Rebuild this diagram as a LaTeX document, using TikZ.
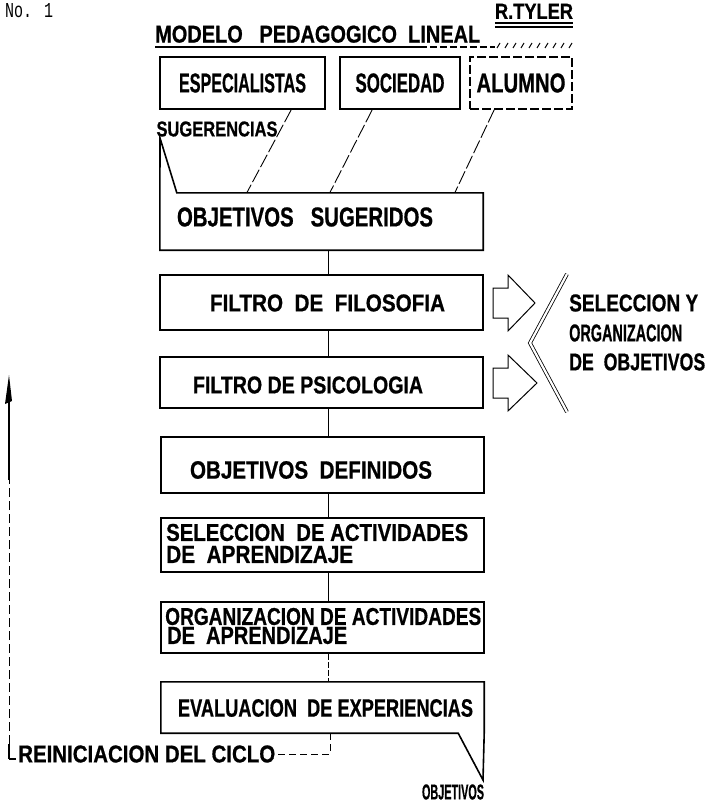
\documentclass[tikz,border=0pt]{standalone}
\usepackage{fontspec}
\setmainfont{Liberation Sans}
\newfontfamily\hv{Liberation Sans}[BoldFeatures={FakeBold=0.8}]
\newfontfamily\monof{Liberation Mono}
\usepackage{graphicx}
\newcommand\lab[3]{\resizebox{#1pt}{#2pt}{\hv\bfseries #3}}
\newcommand\mlab[3]{\resizebox{#1pt}{#2pt}{\monof #3}}
\begin{document}
\begin{tikzpicture}[x=1pt,y=-1pt,
  box/.style={draw, line width=1.6pt, inner sep=0pt, minimum width=323pt},
  frame/.style={inner sep=0pt, minimum width=323pt},
  boxline/.style={line width=1.6pt, line join=miter},
  txt/.style={inner sep=0pt},
  conn/.style={line width=0.9pt},
  diag/.style={line width=0.9pt, dash pattern=on 14pt off 3pt},
  harrow/.style={line width=1pt, line join=miter}]
\useasboundingbox (0,0) rectangle (711,805);
\fill[white] (0,0) rectangle (711,805);

% header
\node[txt, anchor=north west] (no) at (5,3) {\mlab{48}{14}{No. 1}};
\node[txt, anchor=south] (tyler) at (534,19) {\lab{78}{15}{R.TYLER}};
\draw[line width=1.2pt] (tyler.south west) ++(0,4) -- ++(78,0);
\draw[line width=1.2pt] (tyler.south west) ++(0,8) -- ++(78,0);
\node[txt, anchor=south west] (title) at (155,43) {\lab{325}{17}{MODELO\ \ \ PEDAGOGICO\ \ LINEAL}};
\draw[line width=1.4pt] (title.south west) ++(0,4) -- (420,47);
\draw[line width=1.4pt, dash pattern=on 7pt off 3pt] (420,47) -- (495,47);
\foreach \xx in {497,505,...,569} \draw[line width=1pt] (\xx,48) -- ++(3,-5);

% top boxes
\node[box, minimum width=165pt, minimum height=52pt] (esp) at (242.5,83) {\lab{127}{19}{ESPECIALISTAS}};
\node[box, minimum width=120pt, minimum height=52pt] (soc) at (400,83) {\lab{89}{19}{SOCIEDAD}};
\node[box, dash pattern=on 9pt off 3pt, minimum width=102pt, minimum height=52pt] (alu) at (521,83) {\lab{89}{19}{ALUMNO}};
\node[txt] (sug) at (217,129) {\lab{121}{15}{SUGERENCIAS}};

% objetivos sugeridos (callout)
\node[frame, minimum height=57pt] (objsug) at (321.5,221.5) {};
\coordinate (sugtip) at (160,138);
\draw[boxline] (objsug.south west) -- (sugtip) -- ([xshift=17pt]objsug.north west) -- (objsug.north east) -- (objsug.south east) -- cycle;
\node[txt] (objsugt) at (305,217) {\lab{256}{19}{OBJETIVOS\ \ \ SUGERIDOS}};

\draw[diag] ([xshift=132pt]esp.south west) -- ([xshift=87pt]objsug.north west);
\draw[diag] ([xshift=33pt]soc.south west) -- ([xshift=170pt]objsug.north west);
\draw[diag] ([xshift=25pt]alu.south west) -- ([xshift=295pt]objsug.north west);

% filters
\node[box, minimum height=55pt] (fil) at (321.5,302.5) {};
\node[txt] (filt) at (327.5,303) {\lab{235}{17}{FILTRO\ \ DE\ \ FILOSOFIA}};
\node[box, minimum height=51pt] (psi) at (321.5,382.5) {};
\node[txt] (psit) at (308,385) {\lab{230}{17}{FILTRO DE\ PSICOLOGIA}};

% hollow arrows
\foreach \cy/\tip [count=\i] in {303/535, 383/537} {
  \draw[harrow] (493,\cy-15) -- (508,\cy-15) -- (508,\cy-28) -- (\tip,\cy) -- (508,\cy+28) -- (508,\cy+15) -- (493,\cy+15) -- cycle;
}
% chevron
\draw[double, line width=0.8pt, double distance=2.2pt, line join=miter] (567,274) -- (530,343) -- (567,412);
\node[txt, anchor=west] (so1) at (569,303) {\lab{129}{17}{SELECCION Y}};
\node[txt, anchor=west] (so2) at (569,333) {\lab{113}{17}{ORGANIZACION}};
\node[txt, anchor=west] (so3) at (569,362) {\lab{136}{17}{DE\ \ OBJETIVOS}};

% lower boxes
\node[box, minimum height=56pt] (objdef) at (322.5,465) {};
\node[txt] (objdeft) at (311,470) {\lab{242}{17.5}{OBJETIVOS\ \ DEFINIDOS}};
\node[box, minimum height=54pt] (sel) at (322.5,545) {};
\node[txt, anchor=north west, align=left, font=\fontsize{10}{22}\selectfont] (selt) at (166,523.7)
  {\lab{302}{17}{SELECCION\ \ DE ACTIVIDADES}\\\lab{187}{17}{DE\ \ APRENDIZAJE}};
\node[box, minimum height=51pt] (org) at (322.5,627.5) {};
\node[txt, anchor=north west, align=left, font=\fontsize{10}{19}\selectfont] (orgt) at (165,607.7)
  {\lab{316}{17}{ORGANIZACION DE ACTIVIDADES}\\\hspace*{2pt}\lab{180}{17}{DE\ \ APRENDIZAJE}};

% evaluacion (callout)
\node[frame, minimum height=51pt] (eval) at (322.5,707.5) {};
\coordinate (evaltip) at (483,780);
\draw[boxline] (eval.north west) -- (eval.north east) -- (eval.south east) -- (evaltip) -- ([xshift=-26pt]eval.south east) -- (eval.south west) -- cycle;
\node[txt] (evalt) at (325.5,708) {\lab{295}{17.5}{EVALUACION\ \ DE EXPERIENCIAS}};
\node[txt] (objb) at (453,792) {\lab{62}{15}{OBJETIVOS}};

% vertical connectors
\draw[conn] ([xshift=6.5pt]objsug.south) -- ([xshift=6.5pt]fil.north);
\draw[conn] ([xshift=6.5pt]fil.south) -- ([xshift=6.5pt]psi.north);
\draw[conn] ([xshift=6.5pt]psi.south) -- ([xshift=5.5pt]objdef.north);
\draw[conn] ([xshift=5.5pt]objdef.south) -- ([xshift=5.5pt]sel.north);
\draw[conn] ([xshift=5.5pt]sel.south) -- ([xshift=5.5pt]org.north);
\draw[conn, dash pattern=on 6pt off 2pt] ([xshift=5.5pt]org.south) -- ([xshift=5.5pt]eval.north);

% reiniciacion loop
\node[txt, anchor=west] (rein) at (18,754) {\lab{257}{17}{REINICIACION DEL CICLO}};
\draw[conn, dash pattern=on 7pt off 4pt] ([xshift=7.5pt]eval.south) |- ([xshift=3pt]rein.east);
\coordinate (loopup) at (9,375);
\draw[line width=1.2pt] (9,759) -- (9,744);
\draw[line width=1.2pt] (9,759) -- ([xshift=-2pt,yshift=-5pt]rein.west);
\draw[conn, dash pattern=on 9pt off 4pt] (9,744) -- (9,480);
\draw[line width=1.1pt] (9,480) -- (9,398);
\fill (loopup) -- (12,401) -- (5,404) -- cycle;
\end{tikzpicture}
\end{document}
